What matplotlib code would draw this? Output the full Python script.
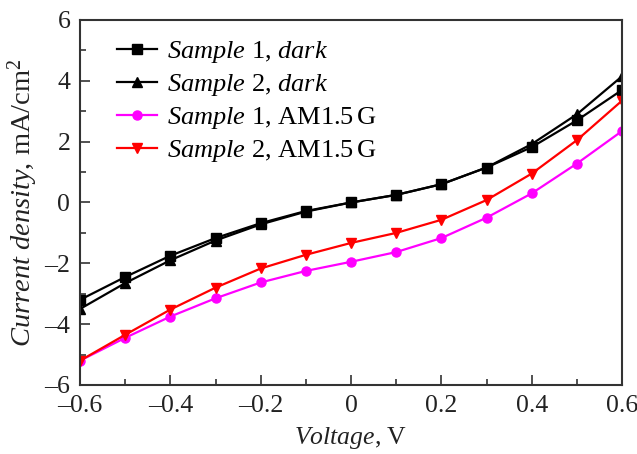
import numpy as np
import matplotlib.pyplot as plt
from matplotlib.ticker import MultipleLocator, FuncFormatter

plt.rcParams['font.family'] = ['Liberation Serif', 'DejaVu Serif']
plt.rcParams['mathtext.fontset'] = 'custom'
plt.rcParams['mathtext.rm'] = 'Liberation Serif'
plt.rcParams['mathtext.it'] = 'Liberation Serif:italic'

# Voltage, V
voltage = [-0.6, -0.5, -0.4, -0.3, -0.2, -0.1, 0.0, 0.1, 0.2, 0.3, 0.4, 0.5, 0.6]

# Current density, mA/cm^2
s1_dark = [-3.2, -2.45, -1.75, -1.17, -0.68, -0.28, 0.0, 0.25, 0.6, 1.15, 1.82, 2.7, 3.7]
s2_dark = [-3.5, -2.65, -1.9, -1.25, -0.72, -0.3, 0.0, 0.25, 0.6, 1.15, 1.92, 2.9, 4.15]
s1_light = [-5.2, -4.45, -3.75, -3.15, -2.63, -2.25, -1.95, -1.63, -1.17, -0.5, 0.3, 1.28, 2.35]
s2_light = [-5.2, -4.35, -3.52, -2.8, -2.17, -1.72, -1.33, -1.0, -0.57, 0.08, 0.95, 2.05, 3.35]

fig = plt.figure(figsize=(6.37, 4.54), dpi=100)
ax = fig.add_axes([0.1256, 0.152, 0.851, 0.804])

ax.plot(voltage, s1_dark, color='black', marker='s', ms=6.5, lw=1.6,
        label=r'$\it{Sample}$ 1, $\it{dark}$')
ax.plot(voltage, s2_dark, color='black', marker='^', ms=6.5, lw=1.6,
        label=r'$\it{Sample}$ 2, $\it{dark}$')
ax.plot(voltage, s1_light, color='#ff00ff', marker='o', ms=6.5, lw=1.6,
        label=r'$\it{Sample}$ 1, AM1.5$\,$G')
ax.plot(voltage, s2_light, color='red', marker='v', ms=6.5, lw=1.6,
        label=r'$\it{Sample}$ 2, AM1.5$\,$G')

ax.set_xlim(-0.6, 0.6)
ax.set_ylim(-6, 6)
ax.xaxis.set_major_locator(MultipleLocator(0.2))
ax.xaxis.set_minor_locator(MultipleLocator(0.1))
ax.yaxis.set_major_locator(MultipleLocator(2))
ax.yaxis.set_minor_locator(MultipleLocator(1))

def fmt(v, pos):
    if abs(v) < 1e-9:
        return '0'
    s = ('%g' % round(v, 2))
    return s.replace('-', '\u2013')

ax.xaxis.set_major_formatter(FuncFormatter(fmt))
ax.yaxis.set_major_formatter(FuncFormatter(fmt))

ax.tick_params(which='both', direction='in', labelsize=18.5, color='#333333',
               labelcolor='#222222')
ax.tick_params(which='major', length=7, width=1.2)
ax.tick_params(which='minor', length=4, width=1.2)
ax.tick_params(axis='x', which='major', pad=7)
ax.tick_params(axis='y', which='major', pad=7)
for sp in ax.spines.values():
    sp.set_linewidth(1.5)
    sp.set_color('#333333')

ax.set_xlabel(r'$\it{Voltage}$, V', fontsize=18.5, labelpad=6, color='#222222')
ax.set_ylabel(r'$\it{Current\ density}$, mA/cm$^2$', fontsize=20.5, labelpad=3,
              color='#222222')

ax.legend(loc='upper left', frameon=False, fontsize=19, handlelength=1.5,
          borderaxespad=0.5, borderpad=0.5, handletextpad=0.4, labelspacing=0.27,
          bbox_to_anchor=(0.02, 1.02))

fig.savefig('out.png', dpi=100)
